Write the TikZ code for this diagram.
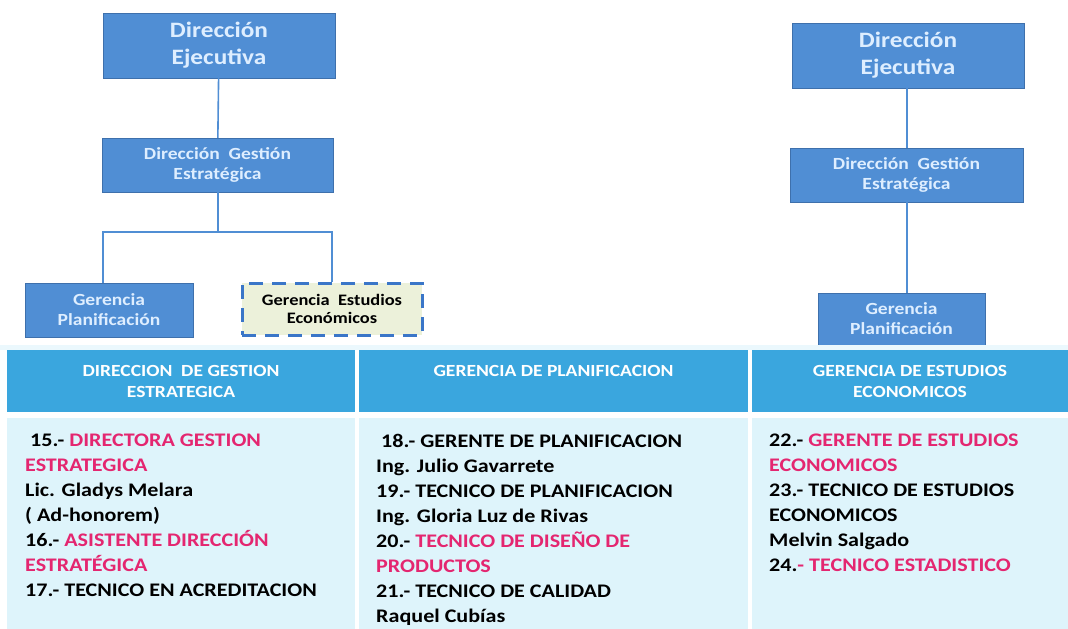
\documentclass[tikz,border=0pt]{standalone}
\usepackage{fontspec}
\setmainfont{Carlito}[FakeStretch=1.15]
\definecolor{boxblue}{RGB}{80,142,212}
\definecolor{boxline}{RGB}{62,112,172}
\definecolor{boxtext}{RGB}{222,238,255}
\definecolor{headblue}{RGB}{58,166,222}
\definecolor{bodycyan}{RGB}{222,244,251}
\definecolor{rosa}{RGB}{228,38,112}
\definecolor{paleyellow}{RGB}{236,241,218}
\definecolor{dashblue}{RGB}{58,118,200}
\begin{document}
\begin{tikzpicture}[x=1pt,y=-1pt,
    orgbox/.style={draw=boxline,fill=boxblue,text=boxtext,align=center,inner sep=0pt,
      font=\fontsize{17}{20}\selectfont\bfseries},
    bigbox/.style={orgbox,font=\fontsize{22}{27}\selectfont\bfseries},
    dashbox/.style={draw=dashblue,line width=3pt,dash pattern=on 14pt off 9pt,fill=paleyellow,
      align=center,inner sep=0pt,font=\fontsize{16}{18}\selectfont\bfseries},
    link/.style={draw=boxblue,line width=1.6pt},
    headcell/.style={fill=headblue,draw=none,inner sep=0pt,text=white,align=center,anchor=north,
      font=\fontsize{17}{21}\selectfont\bfseries},
    bodycell/.style={fill=bodycyan,draw=none,inner sep=0pt,anchor=north west},
    entry/.style={anchor=north west,align=left,inner sep=0pt,
      font=\fontsize{19.2}{25}\selectfont\bfseries}]
    \useasboundingbox (0,0) rectangle (1068,629);

    \node[bigbox,minimum width=232,minimum height=65] (de1) at (219,45.5) {Dirección\\Ejecutiva};
    \node[orgbox,minimum width=231,minimum height=54] (dge1) at (217.5,165) {Dirección\ \ Gestión\\Estratégica};
    \node[orgbox,minimum width=168,minimum height=54] (gp1) at (109,310) {Gerencia\\Planificación};
    \node[dashbox,minimum width=180,minimum height=52] (gee1) at (332,309) {Gerencia\ \ Estudios\\Económicos};
    \coordinate (split1) at (218,232);

    \draw[link] (de1) -- (dge1);
    \draw[link] (dge1.south -| split1) -- (split1);
    \draw[link] (split1) -| ([xshift=-6pt]gp1.north);
    \draw[link] (split1) -| (gee1.north);

    \node[bigbox,minimum width=232,minimum height=65] (de2) at (908,55.5) {Dirección\\Ejecutiva};
    \node[orgbox,minimum width=233,minimum height=54] (dge2) at (906.5,175) {Dirección\ \ Gestión\\Estratégica};
    \node[orgbox,minimum width=167,minimum height=52] (gp2) at (901.5,319) {Gerencia\\Planificación};

    \draw[link] (de2.south -| 907,0) -- (dge2.north -| 907,0);
    \draw[link] (dge2.south -| 907,0) -- (gp2.north -| 907,0);

    \fill[bodycyan!60!white] (0,345) rectangle (1068,350);
    \node[headcell,minimum width=348,minimum height=62] (h1) at (181,350) {DIRECCION\ \ DE GESTION\\ESTRATEGICA};
    \node[headcell,minimum width=389,minimum height=62] (h2) at (553.5,350) {GERENCIA DE PLANIFICACION\\\phantom{E}};
    \node[headcell,minimum width=316,minimum height=62] (h3) at (910,350) {GERENCIA DE ESTUDIOS\\ECONOMICOS};

    \node[bodycell,minimum width=348,minimum height=211] (b1) at (7,418) {};
    \node[bodycell,minimum width=389,minimum height=211] (b2) at (359,418) {};
    \node[bodycell,minimum width=316,minimum height=211] (b3) at (752,418) {};

    \node[entry] (t1) at (25,434) {\ 15.- \textcolor{rosa}{DIRECTORA GESTION}\\
      \textcolor{rosa}{ESTRATEGICA}\\
      Lic. Gladys Melara\\
      ( Ad-honorem)\\
      16.- \textcolor{rosa}{ASISTENTE DIRECCIÓN}\\
      \textcolor{rosa}{ESTRATÉGICA}\\
      17.- TECNICO EN ACREDITACION};
    \node[entry] (t2) at (376,434) {\ 18.- GERENTE DE PLANIFICACION\\
      Ing. Julio Gavarrete\\
      19.- TECNICO DE PLANIFICACION\\
      Ing. Gloria Luz de Rivas\\
      20.- \textcolor{rosa}{TECNICO DE DISEÑO DE}\\
      \textcolor{rosa}{PRODUCTOS}\\
      21.- TECNICO DE CALIDAD\\
      Raquel Cubías};
    \node[entry] (t3) at (769,434) {22.- \textcolor{rosa}{GERENTE DE ESTUDIOS}\\
      \textcolor{rosa}{ECONOMICOS}\\
      23.- TECNICO DE ESTUDIOS\\
      ECONOMICOS\\
      Melvin Salgado\\
      24.\textcolor{rosa}{- TECNICO ESTADISTICO}};
\end{tikzpicture}
\end{document}
